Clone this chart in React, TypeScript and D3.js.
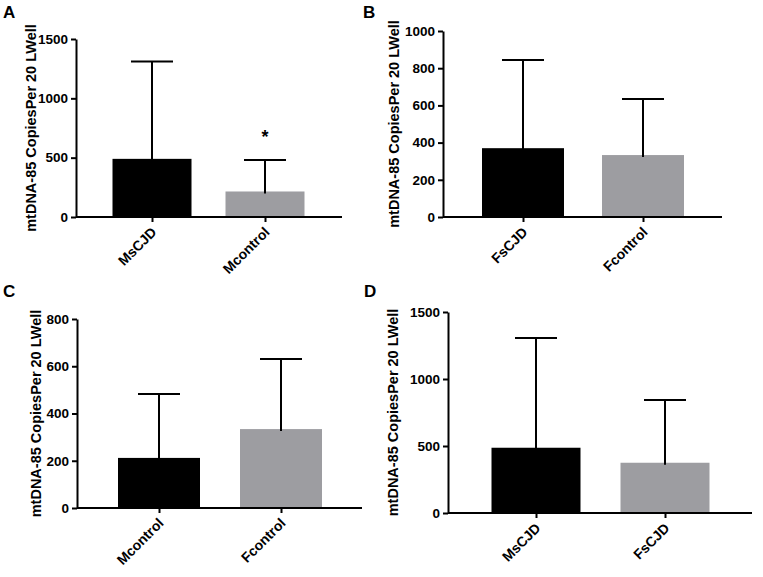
import React, { useEffect, useRef } from 'react';
import * as d3 from 'd3';

// bar means and upper SD
const catsA = ['MsCJD', 'Mcontrol'];
const meansA = [490, 215];
const errA = [1310, 480];

const catsB = ['FsCJD', 'Fcontrol'];
const meansB = [370, 333];
const errB = [844, 634];

const catsC = ['Mcontrol', 'Fcontrol'];
const meansC = [212, 334];
const errC = [483, 631];

const catsD = ['MsCJD', 'FsCJD'];
const meansD = [487, 375];
const errD = [1306, 843];

const ticksA = [0, 500, 1000, 1500];
const ticksB = [0, 200, 400, 600, 800, 1000];
const ticksC = [0, 200, 400, 600, 800];
const ticksD = [0, 500, 1000, 1500];

const yTitle = 'mtDNA-85 CopiesPer 20 LWell';
const colors = ['#000000', '#9d9da1'];
const FONT = 'Arial, "Liberation Sans", sans-serif';

const panels = [
  {letter: 'A', lx: 3, ly: 18, cats: catsA, means: meansA, errs: errA, ticks: ticksA, left: 76, right: 342, top: 39, bottom: 217, c0: 152, c1: 265, bw: 79, titleX: 31, star: 1},
  {letter: 'B', lx: 363, ly: 18, cats: catsB, means: meansB, errs: errB, ticks: ticksB, left: 443, right: 722, top: 31, bottom: 217, c0: 523, c1: 643, bw: 82, titleX: 394, star: -1},
  {letter: 'C', lx: 3, ly: 297, cats: catsC, means: meansC, errs: errC, ticks: ticksC, left: 77, right: 362, top: 319, bottom: 508, c0: 159, c1: 281, bw: 82, titleX: 36, star: -1},
  {letter: 'D', lx: 364, ly: 297, cats: catsD, means: meansD, errs: errD, ticks: ticksD, left: 448, right: 752, top: 312, bottom: 513, c0: 536, c1: 665, bw: 89, titleX: 393, star: -1},
];

const draw = (node) => {
  const svg = d3.select(node);
  svg.selectAll('*').remove();

  panels.forEach(p => {
    const g = svg.append('g');

    const y = d3
      .scaleLinear()
      .domain([0, d3.max(p.ticks)])
      .range([p.bottom, p.top]);

    const x = d3.scalePoint().domain(p.cats).range([p.c0, p.c1]);

    // panel letter
    g.append('text')
      .attr('x', p.lx)
      .attr('y', p.ly)
      .attr('font-family', FONT)
      .attr('font-weight', 'bold')
      .attr('font-size', 17)
      .text(p.letter);

    // bars
    g.selectAll('rect')
      .data(p.cats)
      .enter()
      .append('rect')
      .attr('x', d => x(d) - p.bw / 2)
      .attr('y', (d, i) => y(p.means[i]))
      .attr('width', p.bw)
      .attr('height', (d, i) => y(0) - y(p.means[i]))
      .attr('fill', (d, i) => colors[i]);

    // upper error bars
    const eb = g.append('g').attr('stroke', '#000').attr('stroke-width', 2);
    p.cats.forEach((c, i) => {
      eb.append('line')
        .attr('x1', x(c))
        .attr('x2', x(c))
        .attr('y1', y(p.means[i]) + 2)
        .attr('y2', y(p.errs[i]));
      eb.append('line')
        .attr('x1', x(c) - 21)
        .attr('x2', x(c) + 21)
        .attr('y1', y(p.errs[i]))
        .attr('y2', y(p.errs[i]));
    });

    // y axis
    const ya = g
      .append('g')
      .attr('transform', `translate(${p.left},0)`)
      .call(d3.axisLeft(y).tickValues(p.ticks).tickFormat(d3.format('d')).tickSize(5).tickSizeOuter(0).tickPadding(3));
    ya.select('.domain').attr('stroke-width', 2);
    ya.selectAll('.tick line').attr('stroke-width', 2);
    ya.selectAll('.tick text')
      .attr('font-family', FONT)
      .attr('font-weight', 'bold')
      .attr('font-size', 13.5)
      .attr('fill', '#000');

    // x axis
    const xa = g
      .append('g')
      .attr('transform', `translate(0,${p.bottom})`)
      .call(d3.axisBottom(x).tickSize(5).tickSizeOuter(0));
    xa.select('.domain').attr('d', `M${p.left},0H${p.right}`).attr('stroke-width', 2);
    xa.selectAll('.tick line').attr('stroke-width', 2);
    xa.selectAll('.tick text')
      .attr('font-family', FONT)
      .attr('font-weight', 'bold')
      .attr('font-size', 14)
      .attr('fill', '#000')
      .attr('text-anchor', 'end')
      .attr('dy', null)
      .attr('y', 0)
      .attr('transform', 'translate(5,16) rotate(-45)');

    // y title
    g.append('text')
      .attr('transform', `translate(${p.titleX},${(p.top + p.bottom) / 2}) rotate(-90)`)
      .attr('text-anchor', 'middle')
      .attr('dominant-baseline', 'central')
      .attr('font-family', FONT)
      .attr('font-weight', 'bold')
      .attr('font-size', 14.5)
      .text(yTitle);

    // significance mark
    if (p.star >= 0) {
      const c = p.cats[p.star];
      g.append('text')
        .attr('x', x(c))
        .attr('y', y(p.errs[p.star]) - 17)
        .attr('text-anchor', 'middle')
        .attr('font-family', FONT)
        .attr('font-weight', 'bold')
        .attr('font-size', 18)
        .text('*');
    }
  });
};

export default function App() {
  const ref = useRef(null);
  useEffect(() => {
    document.body.style.margin = '0';
    draw(ref.current);
  }, []);
  return <svg ref={ref} width={763} height={577} style={{display: 'block', background: '#fff'}} />;
}
